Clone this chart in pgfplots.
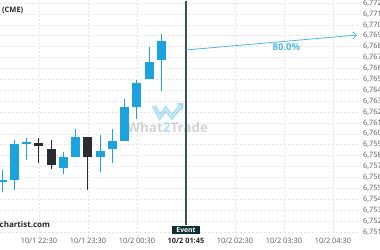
\documentclass[border=0pt]{standalone}
\usepackage{pgfplots}
\pgfplotsset{compat=1.18}
\usepackage{fontspec}
\setmainfont{Open Sans}
\usetikzlibrary{arrows.meta}
\definecolor{cblue}{HTML}{1AA3DC}
\definecolor{cdark}{HTML}{2B2B33}
\definecolor{evline}{HTML}{37535A}
\definecolor{evbox}{HTML}{0F2F35}
\definecolor{arrblue}{HTML}{4DB8E6}
\definecolor{tickgray}{HTML}{555555}
\newcommand{\candle}[6]{%
  \addplot[draw=#6, line width=1bp, forget plot] coordinates {(#1,#4) (#1,#3)};
  \addplot[draw=#6, line width=9bp, forget plot] coordinates {(#1,#2) (#1,#5)};
}
\begin{document}
\begin{tikzpicture}
\begin{axis}[
  name=ax,
  scale only axis,
  width=357.5bp, height=237bp,
  xmin=-3.18, xmax=26,
  ymin=6750.53, ymax=6772.275,
  clip=false,
  axis line style={draw=none},
  major tick length=0pt,
  xtick={0,4,8,12,16,20,24},
  xticklabels={10/1 22:30,10/1 23:30,10/2 00:30,{\textbf{\color{black!85}10/2 01:45}},10/2 02:30,10/2 03:30,10/2 04:30},
  ytick={6751,6752,...,6772},
  yticklabel pos=right,
  /pgf/number format/.cd, assume math mode=true, 1000 sep={,}, fixed, precision=0,
  /pgfplots/.cd,
  ticklabel style={font=\fontsize{7.4}{8}\selectfont, text=tickgray},
  xticklabel style={yshift=2.5bp},
  yticklabel style={anchor=west, inner sep=0pt, xshift=5.5bp},
  grid=major,
  major grid style={draw=gray!22, line width=0.5bp, dash pattern=on 2bp off 2bp},
]
% candles: index, open, high, low, close, colour
\candle{-3}{6755.6}{6756.7}{6754.7}{6755.8}{cblue}
\candle{-2}{6755.8}{6759.4}{6754.8}{6759.1}{cblue}
\candle{-1}{6759.1}{6759.6}{6757.6}{6759.25}{cblue}
\candle{0}{6759.13}{6759.65}{6757.3}{6758.9}{cdark}
\candle{1}{6758.6}{6759.4}{6756.75}{6757.15}{cdark}
\candle{2}{6756.85}{6758.35}{6756.3}{6757.85}{cblue}
\candle{3}{6757.85}{6760.4}{6757.85}{6759.7}{cblue}
\candle{4}{6759.7}{6759.7}{6754.84}{6757.85}{cdark}
\candle{5}{6757.85}{6759.9}{6756.5}{6758.4}{cblue}
\candle{6}{6758.6}{6760.4}{6757.3}{6759.35}{cblue}
\candle{7}{6759.35}{6763.15}{6759.35}{6762.45}{cblue}
\candle{8}{6762.45}{6764.95}{6761.4}{6764.7}{cblue}
\candle{9}{6765.0}{6768.0}{6765.0}{6766.55}{cblue}
\candle{10}{6766.8}{6769.15}{6763.95}{6768.55}{cblue}
% watermark
\node[font=\fontsize{13.5}{13.5}\bfseries, text=gray, opacity=0.35] at (axis cs:10.5,6760.6) {What\textcolor{cblue}{2}Trade};
\begin{scope}[shift={(axis cs:10.6,6762.1)}, x=1bp, y=1bp, opacity=0.35]
\draw[cblue, line width=1.6bp, double=white, double distance=1.2bp, line join=miter]
  (-15,5) -- (-9,-6) -- (-3,2) -- (3,-6) -- (13,6);
\draw[cblue, line width=1.4bp] (8,7) -- (14,7) -- (13,1);
\end{scope}
% event line and box
\addplot[draw=evline, line width=1.3bp, forget plot] coordinates {(12,6751.6) (12,6772.15)};
\node[fill=evbox, text=white, font=\fontsize{6.8}{7}\bfseries, inner sep=1bp, minimum width=28bp, minimum height=7.5bp] at (axis cs:12,6751.15) {Event};
% projection arrow
\addplot[draw=arrblue, line width=0.8bp, -{Straight Barb[length=3.5bp,width=7bp]}, forget plot] coordinates {(12,6767.69) (25.95,6769.06)};
\node[font=\fontsize{9.5}{9.5}\bfseries, text=arrblue] at (axis cs:20.2,6767.95) {80.0\%};
% texts
\node[anchor=west, font=\fontsize{7.5}{8}\bfseries, text=black!85, inner sep=0pt] at ([shift={(2bp,-10bp)}]rel axis cs:0,1) {(CME)};
\node[anchor=west, font=\fontsize{8}{8}\bfseries, text=black!85, inner sep=0pt] at ([shift={(-0.5bp,12bp)}]rel axis cs:0,0) {chartist.com};
\end{axis}
\pgfresetboundingbox
\path[use as bounding box] ([shift={(0,-13bp)}]ax.south west) rectangle ([shift={(380bp,0)}]ax.north west);
\end{tikzpicture}
\end{document}
